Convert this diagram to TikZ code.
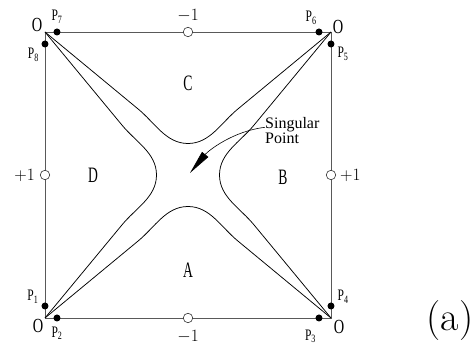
\documentclass[tikz,border=0pt]{standalone}
\usepackage{tikz}
\usetikzlibrary{positioning,arrows.meta}
\usepackage{fontspec}
\setmainfont{Liberation Serif}
\newfontfamily\narrowfont[FakeStretch=0.72]{Liberation Serif}
\newfontfamily\regionfont[FakeStretch=0.62]{Liberation Serif}
\newfontfamily\tagfont{Latin Modern Roman}

\begin{document}
\begin{tikzpicture}[x=1pt,y=1pt,>=stealth,%
		side/.style={draw=black!65, line width=.7pt},%
		curve/.style={draw=black, line width=.75pt},%
		dot/.style={circle, fill=black, inner sep=0pt, minimum size=7pt},%
		ring/.style={circle, draw=black!80, fill=white, line width=.6pt,%
			inner sep=0pt, minimum size=9.5pt},%
		plbl/.style={font=\fontsize{16}{16}\selectfont\narrowfont, inner sep=1pt, label distance=2pt},%
		olbl/.style={font=\fontsize{20}{20}\selectfont\narrowfont, inner sep=0pt},%
		nlbl/.style={font=\fontsize{19}{19}\selectfont, inner sep=0pt},%
		region/.style={font=\fontsize{22}{22}\selectfont\regionfont, inner sep=0pt}]
	\useasboundingbox (-188,-172) rectangle (284,175);
	% square
	\coordinate (SW) at (-143,-143);
	\coordinate (SE) at (143,-143);
	\coordinate (NE) at (143,143);
	\coordinate (NW) at (-143,143);
	\draw[side] (SW) -- (SE) -- (NE) -- (NW) -- cycle;
	% the four branches, one turned four times
	\foreach \r in {0,90,180,270}
		\draw[curve, rotate=\r] (-143,143) -- (-50,66.1)%
			.. controls (-33,52.2) and (-22,31.5) .. (0,31.5)%
			.. controls (22,31.5) and (33,52.2) .. (50,66.1) -- (143,143);
	% midpoints of the sides
	\node[ring, label={[nlbl,label distance=5pt]above:$-1$}] (mT) at (0,143) {};
	\node[ring, label={[nlbl,label distance=7pt]below:$-1$}] (mB) at (0,-143) {};
	\node[ring, label={[nlbl,label distance=5pt]left:$+1$}] (mL) at (-143,0) {};
	\node[ring, label={[nlbl,label distance=4pt]right:$+1$}] (mR) at (143,0) {};
	% points near the corners
	\node[dot, label={[plbl]165:P\textsubscript{1}}] (P1) at (-143,-131) {};
	\node[dot, label={[plbl,label distance=4pt]-90:P\textsubscript{2}}] (P2) at (-131,-143) {};
	\node[dot, label={[plbl,label distance=7pt]-100:P\textsubscript{3}}] (P3) at (131,-143) {};
	\node[dot, label={[plbl]15:P\textsubscript{4}}] (P4) at (143,-131) {};
	\node[dot, label={[plbl]-20:P\textsubscript{5}}] (P5) at (143,131) {};
	\node[dot, label={[plbl,label distance=3pt]100:P\textsubscript{6}}] (P6) at (131,143) {};
	\node[dot, label={[plbl,label distance=4pt]90:P\textsubscript{7}}] (P7) at (-131,143) {};
	\node[dot, label={[plbl]-150:P\textsubscript{8}}] (P8) at (-143,131) {};
	% corner zeros
	\node[olbl] (O1) at (-150,-151) {O};
	\node[olbl] (O2) at (151,-152) {O};
	\node[olbl] (O3) at (150,148) {O};
	\node[olbl] (O4) at (-151,150) {O};
	% regions
	\node[region] (A) at (0,-95) {A};
	\node[region] (B) at (95,-2) {B};
	\node[region] (C) at (0,92) {C};
	\node[region] (D) at (-95,0) {D};
	% singular point
	\coordinate (spt) at (2,2);
	\node[anchor=north west, align=left, inner sep=0pt,%
		font=\fontsize{16}{15}\selectfont] (sing) at (77,58) {Singular\\Point};
	\draw[line width=.6pt, -{Triangle[length=24pt,width=8pt]}] ([yshift=3pt]sing.west)%
		.. controls (45,44) and (20,24) .. (spt);
	\node[font=\fontsize{40}{40}\selectfont\tagfont, inner sep=0pt] (tag) at (262,-146) {(a)};
\end{tikzpicture}
\end{document}
